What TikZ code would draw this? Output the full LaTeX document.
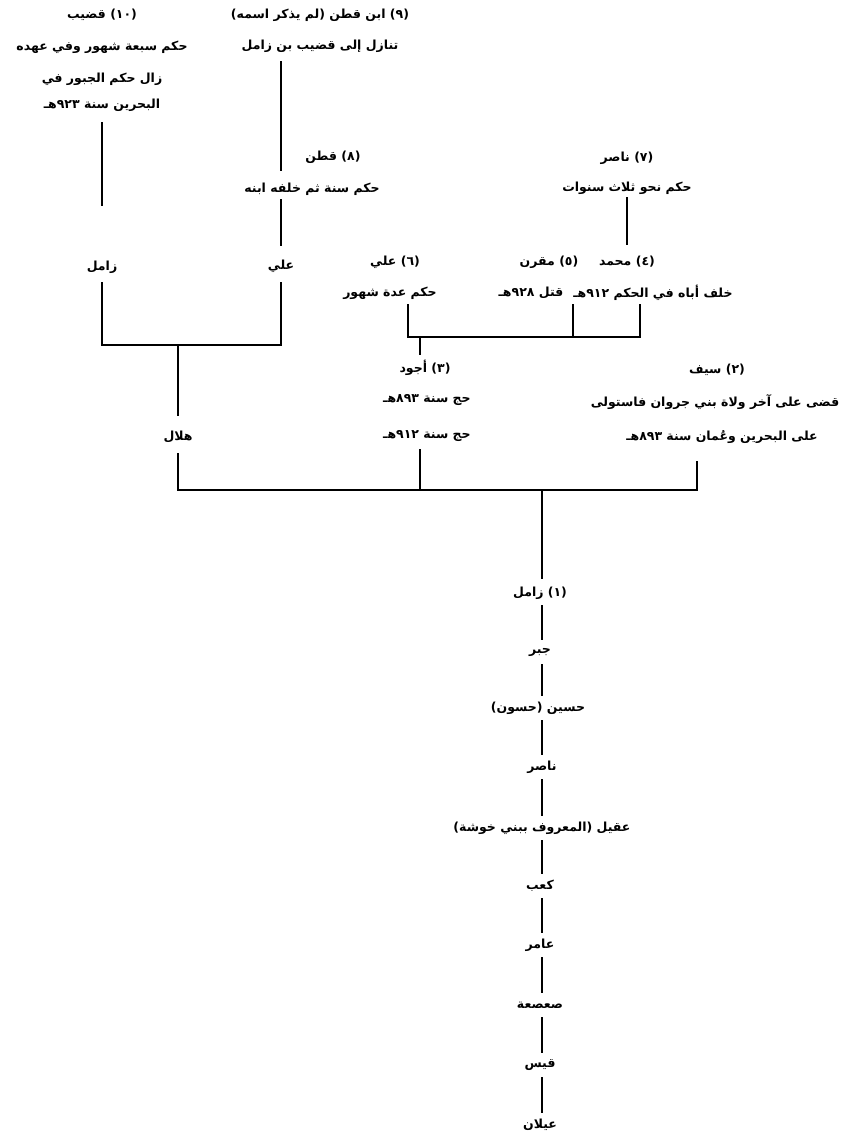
\documentclass[tikz,border=0pt]{standalone}
\usepackage{fontspec}
\TeXXeTstate=1
\newfontfamily\arfont[Script=Arabic]{DejaVu Sans}
\newcommand{\AR}[1]{\beginR #1\endR}
\tikzset{
  lbl/.style={inner sep=1pt, font=\arfont\bfseries\fontsize{12.5}{14}\selectfont},
  ln/.style={line width=1.5pt, line cap=rect}
}
\begin{document}
\begin{tikzpicture}[x=1pt,y=-1pt]
\useasboundingbox[fill=white] (0,0) rectangle (864,1137);
% block 10
\node[lbl] (t10a) at (102,15) {\AR{(١٠) قضيب}};
\node[lbl] (t10b) at (102,47) {\AR{حكم سبعة شهور وفي عهده}};
\node[lbl] (t10c) at (102,79) {\AR{زال حكم الجبور في}};
\node[lbl] (t10d) at (102,105) {\AR{البحرين سنة ٩٢٣هـ}};
\node[lbl] (zamL) at (102,267) {\AR{زامل}};
% block 9 / 8
\node[lbl] (t9a) at (320,15) {\AR{(٩) ابن قطن (لم يذكر اسمه)}};
\node[lbl] (t9b) at (320,46) {\AR{تنازل إلى قضيب بن زامل}};
\node[lbl] (t8a) at (333,157) {\AR{(٨) قطن}};
\node[lbl] (t8b) at (312,189) {\AR{حكم سنة ثم خلفه ابنه}};
\node[lbl] (aliL) at (281,266) {\AR{علي}};
\node[lbl] (hilal) at (178,437) {\AR{هلال}};
% block 7 / 4 / 5 / 6
\node[lbl] (t7a) at (627,158) {\AR{(٧) ناصر}};
\node[lbl] (t7b) at (627,188) {\AR{حكم نحو ثلاث سنوات}};
\node[lbl] (t4a) at (627,262) {\AR{(٤) محمد}};
\node[lbl] (t4b) at (653,293) {\AR{خلف أباه في الحكم ٩١٢هـ}};
\node[lbl] (t5a) at (549,262) {\AR{(٥) مقرن}};
\node[lbl] (t5b) at (531,293) {\AR{قتل ٩٢٨هـ}};
\node[lbl] (t6a) at (395,262) {\AR{(٦) علي}};
\node[lbl] (t6b) at (390,293) {\AR{حكم عدة شهور}};
% block 3
\node[lbl] (t3a) at (425,368) {\AR{(٣) أجود}};
\node[lbl] (t3b) at (427,400) {\AR{حج سنة ٨٩٣هـ}};
\node[lbl] (t3c) at (427,436) {\AR{حج سنة ٩١٢هـ}};
% block 2
\node[lbl] (t2a) at (717,370) {\AR{(٢) سيف}};
\node[lbl] (t2b) at (715,402) {\AR{قضى على آخر ولاة بني جروان فاستولى}};
\node[lbl] (t2c) at (722,437) {\AR{على البحرين وعُمان سنة ٨٩٣هـ}};
% chain
\node[lbl] (c1) at (540,593) {\AR{(١) زامل}};
\node[lbl] (c2) at (540,652) {\AR{جبر}};
\node[lbl] (c3) at (538,708) {\AR{حسين (حسون)}};
\node[lbl] (c4) at (542,767) {\AR{ناصر}};
\node[lbl] (c5) at (542,828) {\AR{عقيل (المعروف ببني خوشة)}};
\node[lbl] (c6) at (540,886) {\AR{كعب}};
\node[lbl] (c7) at (540,945) {\AR{عامر}};
\node[lbl] (c8) at (540,1005) {\AR{صعصعة}};
\node[lbl] (c9) at (540,1065) {\AR{قيس}};
\node[lbl] (c10) at (540,1125) {\AR{عيلان}};
% junction coordinates
\coordinate (jL) at (178,345);
\coordinate (jR) at (420,337);
\coordinate (jM) at (542,490);
\coordinate (x4) at (640,305);
\coordinate (x5) at (573,305);
\coordinate (x6) at (408,305);
\coordinate (x2) at (697,462);
% connectors left
\draw[ln] ([yshift=-18pt]t10d.center) -- ([yshift=62pt]zamL.center);
\draw[ln] ([yshift=-16pt]zamL.center) |- (jL);
\draw[ln] ([yshift=-16pt]t9b.center -| aliL) -- ([yshift=-13pt]t8a.center -| aliL);
\draw[ln] ([yshift=-11pt]t8b.center -| aliL) -- ([yshift=21pt]aliL.center);
\draw[ln] ([yshift=-17pt]aliL.center) |- (jL);
\draw[ln] (jL) -- ([yshift=22pt]hilal.center);
% connectors right upper
\draw[ln] ([yshift=-10pt]t7b.center) -- ([yshift=18pt]t4a.center);
\draw[ln] (x6) |- (jR) -| (x4);
\draw[ln] (x5) -- (x5 |- jR);
\draw[ln] (jR) -- ([yshift=14pt]t3a.center -| jR);
% lower bracket
\draw[ln] ([yshift=-17pt]hilal.center) |- (jM);
\draw[ln] ([yshift=-14pt]t3c.center -| jR) -- (jR |- jM);
\draw[ln] (x2) |- (jM);
\draw[ln] (jM) -- ([yshift=15pt]c1.center -| jM);
% chain
\foreach \a/\b in {c1/c2,c2/c3,c3/c4,c4/c5,c5/c6,c6/c7,c7/c8,c8/c9,c9/c10}{
  \draw[ln] ([yshift=-13pt]\a.center -| jM) -- ([yshift=13pt]\b.center -| jM);
}
\end{tikzpicture}
\end{document}
